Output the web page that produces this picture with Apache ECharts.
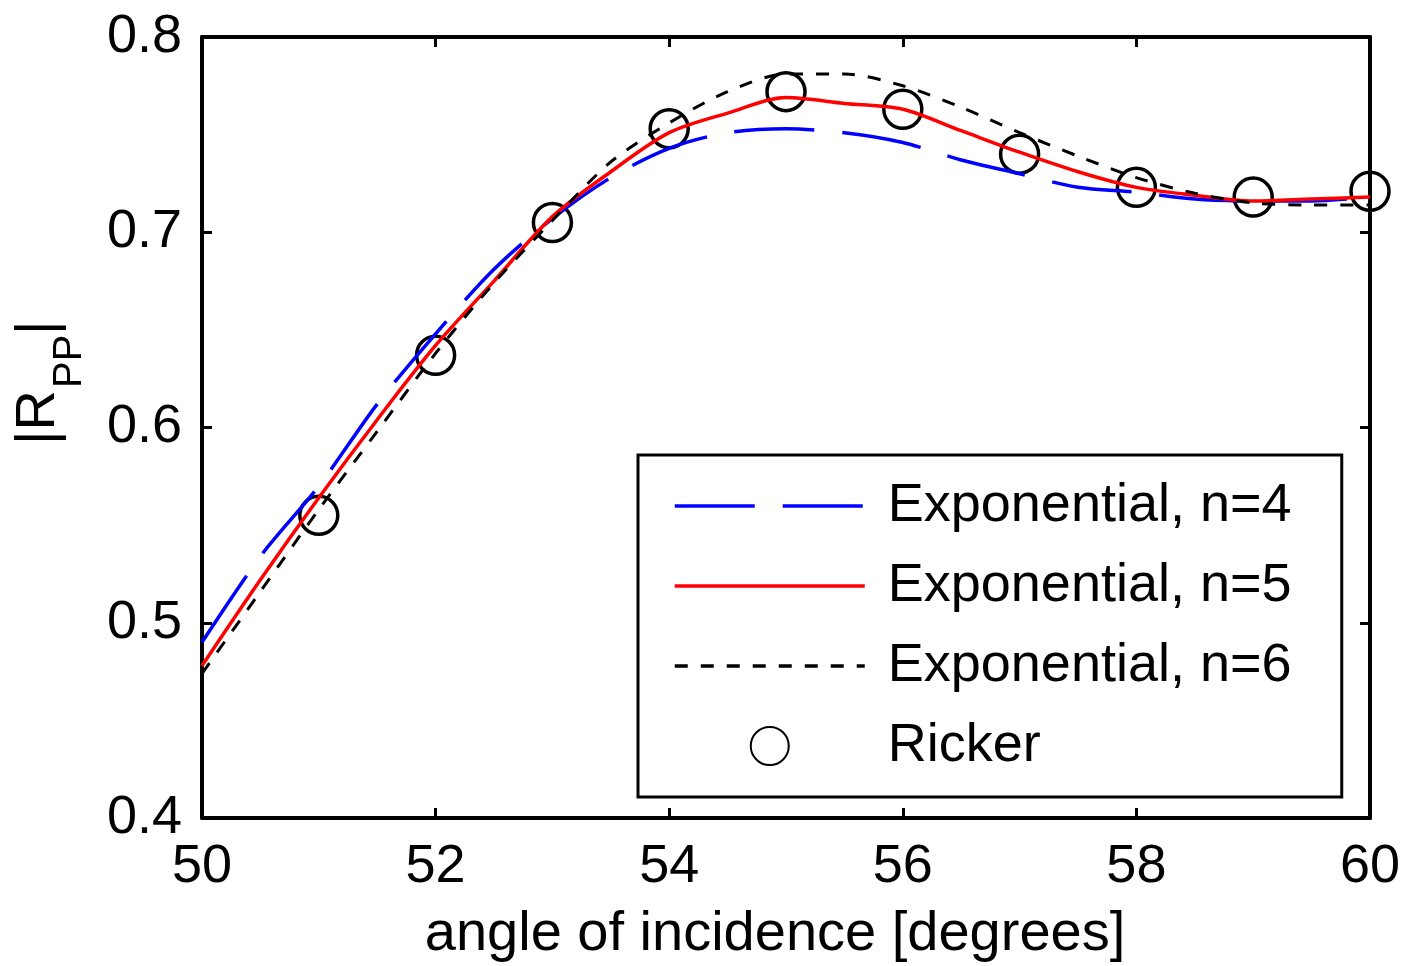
<!DOCTYPE html>
<html>
<head>
<meta charset="utf-8">
<script src="https://cdn.jsdelivr.net/npm/echarts@6/dist/echarts.min.js"></script>
<style>
  html, body { margin: 0; padding: 0; background: #fff; }
  #chart { width: 1401px; height: 966px; }
</style>
</head>
<body>
<div id="chart"></div>
<script>
// angle of incidence (degrees) for the exponential-wavelet curves
var angles = [50, 50.5, 51, 51.5, 52, 52.5, 53, 53.5, 54, 54.5, 55, 55.5, 56, 56.5, 57, 57.5, 58, 58.5, 59, 59.5, 60];
// |Rpp|
var expN4 = [0.490, 0.534, 0.570, 0.612, 0.648, 0.681, 0.707, 0.728, 0.743, 0.751, 0.753, 0.751, 0.746, 0.737, 0.730, 0.723, 0.7205, 0.717, 0.716, 0.716, 0.718];
var expN5 = [0.478, 0.522, 0.564, 0.604, 0.642, 0.675, 0.708, 0.731, 0.751, 0.761, 0.769, 0.766, 0.763, 0.752, 0.741, 0.731, 0.723, 0.719, 0.716, 0.717, 0.718];
var expN6 = [0.474, 0.516, 0.558, 0.598, 0.638, 0.674, 0.706, 0.736, 0.756, 0.772, 0.781, 0.781, 0.775, 0.764, 0.751, 0.739, 0.728, 0.720, 0.715, 0.714, 0.714];
// Ricker wavelet markers
var rickerAngles = [51, 52, 53, 54, 55, 56, 57, 58, 59, 60];
var ricker = [0.555, 0.637, 0.705, 0.753, 0.772, 0.763, 0.740, 0.723, 0.718, 0.721];

var FONT = '"Liberation Sans", Arial, sans-serif';

function pairs(xs, ys) {
  return xs.map(function (x, i) { return [x, ys[i]]; });
}

var chart = echarts.init(document.getElementById('chart'));

var axisLine = { show: true, onZero: false, lineStyle: { color: '#000', width: 4 } };
var axisTick = { show: true, inside: true, length: 10, lineStyle: { color: '#000', width: 3 } };
// line entries in the legend: no marker, just the line
var noMarker = { color: 'rgba(0,0,0,0)', borderWidth: 0 };

chart.setOption({
  animation: false,
  backgroundColor: '#fff',
  grid: { left: 202, right: 31, top: 37, bottom: 148, outerBoundsMode: 'none', containLabel: false },
  xAxis: [{
    type: 'value', min: 50, max: 60, interval: 2, position: 'bottom',
    axisLine: axisLine, axisTick: axisTick, splitLine: { show: false },
    axisLabel: { color: '#000', fontSize: 54, fontFamily: FONT, margin: 22 },
    name: 'angle of incidence [degrees]', nameLocation: 'middle', nameGap: 89,
    nameTextStyle: { color: '#000', fontSize: 56, fontFamily: FONT, padding: [0, 22, 0, 0] }
  }, {
    type: 'value', min: 50, max: 60, interval: 2, position: 'top',
    axisLine: axisLine, axisTick: axisTick, splitLine: { show: false },
    axisLabel: { show: false }
  }],
  yAxis: [{
    type: 'value', min: 0.4, max: 0.8, interval: 0.1, position: 'left',
    axisLine: axisLine, axisTick: axisTick, splitLine: { show: false },
    axisLabel: {
      color: '#000', fontSize: 54, fontFamily: FONT, margin: 20,
      formatter: function (v) { return v.toFixed(1); }
    }
  }, {
    type: 'value', min: 0.4, max: 0.8, interval: 0.1, position: 'right',
    axisLine: axisLine, axisTick: axisTick, splitLine: { show: false },
    axisLabel: { show: false }
  }],
  legend: {
    orient: 'vertical', left: 638, top: 455,
    padding: [21, 34, 21, 35], itemGap: 20,
    itemWidth: 190, itemHeight: 38,
    borderColor: '#000', borderWidth: 3, backgroundColor: '#fff',
    lineStyle: { width: 3.5 },
    textStyle: { color: '#000', fontSize: 54, fontFamily: FONT, lineHeight: 60, width: 420, padding: [0, 0, 0, 18] },
    data: [
      { name: 'Exponential, n=4', itemStyle: noMarker },
      { name: 'Exponential, n=5', itemStyle: noMarker },
      { name: 'Exponential, n=6', itemStyle: noMarker },
      { name: 'Ricker' }
    ]
  },
  graphic: [{
    type: 'group', x: 58, y: 445, rotation: Math.PI / 2,
    children: [
      { type: 'text', x: 0, y: -19.4, style: { text: '|R', fontSize: 56, fontFamily: FONT, fill: '#000', align: 'left', verticalAlign: 'middle' } },
      { type: 'text', x: 57, y: 12, style: { text: 'PP', fontSize: 40, fontFamily: FONT, fill: '#000', align: 'left', verticalAlign: 'middle' } },
      { type: 'text', x: 110, y: -19.4, style: { text: '|', fontSize: 56, fontFamily: FONT, fill: '#000', align: 'left', verticalAlign: 'middle' } }
    ]
  }],
  series: [{
    name: 'Exponential, n=4', type: 'line', symbol: 'none', smooth: 0.3,
    lineStyle: { color: '#0000ff', width: 3.5, type: [80, 28] },
    itemStyle: { color: '#0000ff' },
    data: pairs(angles, expN4)
  }, {
    name: 'Exponential, n=5', type: 'line', symbol: 'none', smooth: 0.3,
    lineStyle: { color: '#ff0000', width: 3.5, type: 'solid' },
    itemStyle: { color: '#ff0000' },
    data: pairs(angles, expN5)
  }, {
    name: 'Exponential, n=6', type: 'line', symbol: 'none', smooth: 0.3,
    lineStyle: { color: '#000', width: 3, type: [13, 13] },
    itemStyle: { color: '#000' },
    data: pairs(angles, expN6)
  }, {
    name: 'Ricker', type: 'scatter', symbol: 'circle', symbolSize: 38,
    itemStyle: { color: 'rgba(0,0,0,0)', borderColor: '#000', borderWidth: 3.5, opacity: 1 },
    data: pairs(rickerAngles, ricker)
  }]
});
</script>
</body>
</html>
